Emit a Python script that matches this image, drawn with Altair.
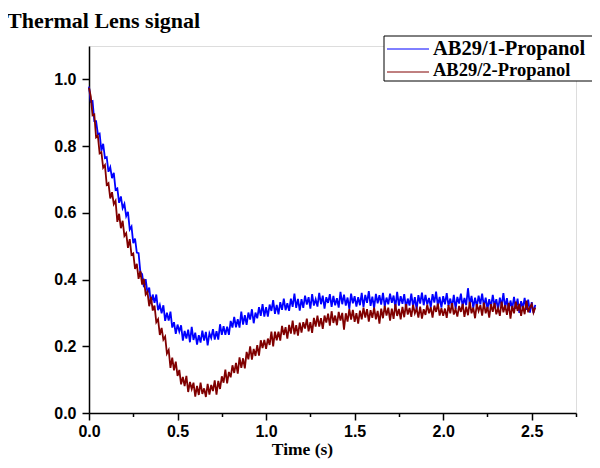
import altair as alt
import pandas as pd

# ---------------- data ----------------
time_s = [round(i * 0.01, 2) for i in range(253)]

blue_1_propanol = [
    0.978, 0.933, 0.935, 0.875, 0.875, 0.836, 0.838, 0.786, 0.807, 0.764,
    0.767, 0.723, 0.737, 0.704, 0.720, 0.669, 0.673, 0.630, 0.649, 0.614,
    0.627, 0.590, 0.603, 0.550, 0.559, 0.509, 0.523, 0.481, 0.479, 0.422,
    0.416, 0.377, 0.401, 0.360, 0.376, 0.328, 0.355, 0.330, 0.355, 0.308,
    0.324, 0.299, 0.323, 0.276, 0.301, 0.277, 0.304, 0.256, 0.272, 0.237,
    0.265, 0.244, 0.263, 0.217, 0.246, 0.223, 0.250, 0.212, 0.258, 0.219,
    0.241, 0.205, 0.233, 0.211, 0.247, 0.217, 0.243, 0.203, 0.239, 0.225,
    0.251, 0.220, 0.245, 0.220, 0.266, 0.234, 0.260, 0.234, 0.259, 0.234,
    0.276, 0.256, 0.288, 0.257, 0.281, 0.256, 0.304, 0.265, 0.293, 0.264,
    0.301, 0.280, 0.311, 0.269, 0.301, 0.284, 0.317, 0.291, 0.326, 0.289,
    0.317, 0.289, 0.325, 0.306, 0.338, 0.297, 0.324, 0.296, 0.332, 0.309,
    0.343, 0.308, 0.329, 0.306, 0.343, 0.318, 0.358, 0.315, 0.342, 0.307,
    0.341, 0.315, 0.352, 0.325, 0.347, 0.313, 0.356, 0.322, 0.341, 0.319,
    0.360, 0.326, 0.352, 0.313, 0.347, 0.330, 0.356, 0.318, 0.351, 0.323,
    0.344, 0.316, 0.363, 0.326, 0.355, 0.322, 0.346, 0.312, 0.358, 0.329,
    0.350, 0.319, 0.347, 0.323, 0.360, 0.317, 0.354, 0.330, 0.365, 0.321,
    0.349, 0.314, 0.357, 0.329, 0.353, 0.325, 0.360, 0.319, 0.346, 0.326,
    0.358, 0.330, 0.352, 0.316, 0.363, 0.322, 0.350, 0.327, 0.356, 0.315,
    0.343, 0.322, 0.358, 0.319, 0.347, 0.310, 0.353, 0.328, 0.361, 0.323,
    0.354, 0.325, 0.345, 0.317, 0.356, 0.331, 0.364, 0.320, 0.348, 0.316,
    0.350, 0.326, 0.359, 0.321, 0.343, 0.317, 0.354, 0.312, 0.348, 0.328,
    0.358, 0.319, 0.345, 0.323, 0.374, 0.325, 0.351, 0.315, 0.346, 0.318,
    0.352, 0.326, 0.358, 0.319, 0.346, 0.311, 0.341, 0.317, 0.354, 0.321,
    0.341, 0.310, 0.346, 0.321, 0.359, 0.315, 0.344, 0.307, 0.337, 0.313,
    0.348, 0.312, 0.343, 0.300, 0.335, 0.314, 0.345, 0.309, 0.340, 0.301,
    0.332, 0.300, 0.324,
]

red_2_propanol = [
    0.975, 0.949, 0.892, 0.895, 0.826, 0.831, 0.778, 0.782, 0.735, 0.743,
    0.684, 0.689, 0.643, 0.662, 0.626, 0.636, 0.573, 0.597, 0.554, 0.576,
    0.531, 0.539, 0.495, 0.521, 0.474, 0.478, 0.432, 0.447, 0.402, 0.426,
    0.385, 0.402, 0.355, 0.363, 0.320, 0.348, 0.307, 0.322, 0.272, 0.281,
    0.234, 0.255, 0.220, 0.229, 0.178, 0.189, 0.135, 0.166, 0.128, 0.154,
    0.111, 0.129, 0.086, 0.108, 0.081, 0.111, 0.063, 0.093, 0.072, 0.091,
    0.049, 0.081, 0.054, 0.091, 0.057, 0.074, 0.048, 0.087, 0.055, 0.084,
    0.066, 0.098, 0.055, 0.096, 0.072, 0.110, 0.091, 0.130, 0.089, 0.123,
    0.107, 0.143, 0.120, 0.150, 0.118, 0.167, 0.135, 0.164, 0.134, 0.183,
    0.161, 0.200, 0.160, 0.192, 0.171, 0.203, 0.172, 0.218, 0.195, 0.219,
    0.192, 0.223, 0.204, 0.244, 0.200, 0.244, 0.218, 0.244, 0.217, 0.261,
    0.234, 0.257, 0.223, 0.264, 0.238, 0.277, 0.236, 0.263, 0.232, 0.271,
    0.241, 0.272, 0.253, 0.283, 0.245, 0.272, 0.240, 0.285, 0.259, 0.292,
    0.259, 0.284, 0.252, 0.292, 0.271, 0.298, 0.262, 0.305, 0.270, 0.292,
    0.263, 0.303, 0.277, 0.300, 0.250, 0.299, 0.274, 0.311, 0.280, 0.309,
    0.273, 0.299, 0.268, 0.307, 0.281, 0.316, 0.286, 0.311, 0.274, 0.308,
    0.285, 0.316, 0.281, 0.306, 0.268, 0.313, 0.284, 0.321, 0.292, 0.316,
    0.277, 0.313, 0.282, 0.326, 0.291, 0.312, 0.281, 0.318, 0.287, 0.326,
    0.295, 0.315, 0.288, 0.324, 0.299, 0.313, 0.286, 0.319, 0.283, 0.311,
    0.294, 0.325, 0.299, 0.317, 0.286, 0.322, 0.303, 0.328, 0.292, 0.314,
    0.291, 0.313, 0.285, 0.323, 0.299, 0.329, 0.295, 0.312, 0.289, 0.321,
    0.303, 0.327, 0.288, 0.319, 0.293, 0.333, 0.299, 0.316, 0.284, 0.326,
    0.306, 0.323, 0.292, 0.331, 0.299, 0.318, 0.286, 0.326, 0.303, 0.330,
    0.296, 0.314, 0.291, 0.334, 0.302, 0.323, 0.294, 0.330, 0.283, 0.321,
    0.299, 0.334, 0.306, 0.327, 0.291, 0.321, 0.296, 0.337, 0.302, 0.317,
    0.326, 0.301, 0.316,
]

series_names = ["AB29/1-Propanol", "AB29/2-Propanol"]
series_colors = ["#0000FF", "#800000"]

x_ticks = [0.0, 0.25, 0.5, 0.75, 1.0, 1.25, 1.5, 1.75, 2.0, 2.25, 2.5, 2.75]
y_ticks = [0.0, 0.1, 0.2, 0.3, 0.4, 0.5, 0.6, 0.7, 0.8, 0.9, 1.0, 1.1]

chart_title = "Thermal Lens signal"
x_title = "Time (s)"

# ---------------- build ----------------
df_blue = pd.DataFrame({"t": time_s, "v": blue_1_propanol})
df_red = pd.DataFrame({"t": time_s, "v": red_2_propanol})
one = pd.DataFrame({"k": [0]})

SANS = "Liberation Sans"
SERIF = "Liberation Serif"

x_axis = alt.Axis(
    values=x_ticks,
    labelExpr="round(datum.value*4) % 2 === 0 ? format(datum.value, '.1f') : ''",
    tickSize={"condition": {"test": "round(datum.value*4) % 2 === 0", "value": 7}, "value": 3.5},
    title=x_title,
    titleFont=SERIF, titleFontSize=17.5, titleFontWeight="bold",
    titleX=213, titleY=41, titleBaseline="alphabetic", titleAlign="center",
    labelFont=SANS, labelFontSize=16, labelFontWeight="bold", labelPadding=3,
    labelFlush=False, grid=False,
    domainColor="black", domainWidth=1.5, tickColor="black", tickWidth=1.5,
    labelColor="black", titleColor="black",
)
y_axis = alt.Axis(
    values=y_ticks,
    labelExpr="round(datum.value*10) % 2 === 0 ? format(datum.value, '.1f') : ''",
    tickSize={"condition": {"test": "round(datum.value*10) % 2 === 0", "value": 7}, "value": 3.5},
    title=None,
    labelFont=SANS, labelFontSize=16, labelFontWeight="bold", labelPadding=6,
    labelFlush=False, grid=False,
    domainColor="black", domainWidth=1.5, tickColor="black", tickWidth=1.5,
    labelColor="black",
)

xs = alt.Scale(domain=[0, 2.75], nice=False, zero=False)
ys = alt.Scale(domain=[0, 1.1], nice=False, zero=False)

blue_line = alt.Chart(df_blue).mark_line(color=series_colors[0], strokeWidth=1.8).encode(
    x=alt.X("t:Q", scale=xs, axis=x_axis),
    y=alt.Y("v:Q", scale=ys, axis=y_axis),
)
red_line = alt.Chart(df_red).mark_line(color=series_colors[1], strokeWidth=1.8).encode(
    x=alt.X("t:Q", scale=xs),
    y=alt.Y("v:Q", scale=ys),
)

# legend box (decoration)
leg_box = alt.Chart(one).mark_rect(fill="white", stroke="black", strokeWidth=1).encode(
    x=alt.value(295), x2=alt.value(530), y=alt.value(-10), y2=alt.value(35)
)
leg_line1 = alt.Chart(one).mark_rule(color=series_colors[0], strokeWidth=1).encode(
    x=alt.value(298), x2=alt.value(340), y=alt.value(3)
)
leg_line2 = alt.Chart(one).mark_rule(color=series_colors[1], strokeWidth=1).encode(
    x=alt.value(298), x2=alt.value(340), y=alt.value(26)
)
leg_text1 = alt.Chart(one).mark_text(
    font=SERIF, fontSize=20.5, fontWeight="bold", align="left", baseline="alphabetic", color="black"
).encode(x=alt.value(344), y=alt.value(8.5), text=alt.value(series_names[0]))
leg_text2 = alt.Chart(one).mark_text(
    font=SERIF, fontSize=18.5, fontWeight="bold", align="left", baseline="alphabetic", color="black"
).encode(x=alt.value(344), y=alt.value(29.5), text=alt.value(series_names[1]))

title_text = alt.Chart(one).mark_text(
    font=SERIF, fontSize=22, fontWeight="bold", align="left", baseline="alphabetic", color="black"
).encode(x=alt.value(-82), y=alt.value(-18), text=alt.value(chart_title))

chart = alt.layer(
    blue_line, red_line, leg_box, leg_line1, leg_line2, leg_text1, leg_text2, title_text
).properties(
    width=487, height=367,
    padding={"left": 81, "top": 38, "right": 16, "bottom": 47},
    autosize=alt.AutoSizeParams(type="none"),
).configure_view(stroke=None).configure(background="white")

chart.save("out.html", embed_options={"renderer": "svg", "actions": False})
